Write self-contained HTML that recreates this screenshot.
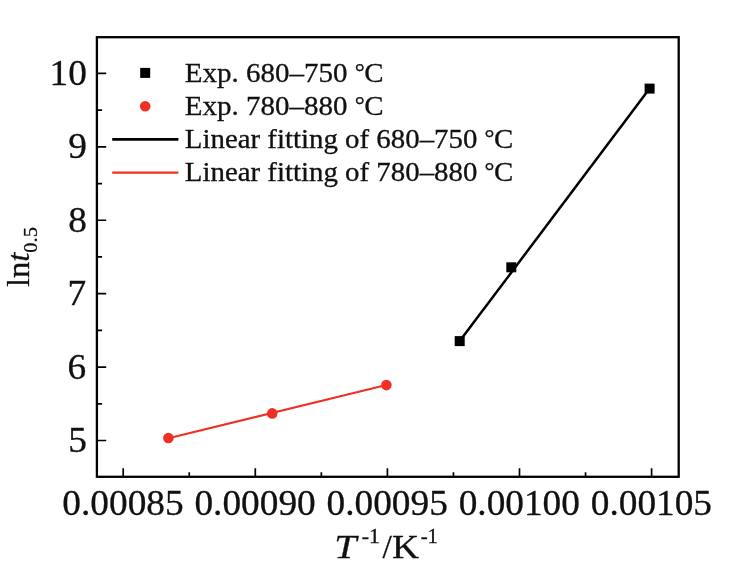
<!DOCTYPE html>
<html><head><meta charset="utf-8"><title>chart</title>
<style>
html,body{margin:0;padding:0;background:#fff}
svg{display:block}
.t{font-family:"Liberation Serif","Noto Serif CJK SC",serif;fill:#111;stroke:#111;stroke-width:0.3px}
</style></head><body>
<svg width="733" height="574" viewBox="0 0 733 574">
<rect width="733" height="574" fill="#fff"/>
<rect x="96.9" y="37.2" width="581.8000000000001" height="439.6" fill="none" stroke="#000" stroke-width="2.3"/>
<path d="M96.9 440.50h9.3 M96.9 367.08h9.3 M96.9 293.66h9.3 M96.9 220.24h9.3 M96.9 146.82h9.3 M96.9 73.40h9.3 M96.9 403.79h5.2 M96.9 330.37h5.2 M96.9 256.95h5.2 M96.9 183.53h5.2 M96.9 110.11h5.2 M123.20 476.8v-8.5 M255.30 476.8v-8.5 M387.40 476.8v-8.5 M519.50 476.8v-8.5 M651.60 476.8v-8.5 M189.25 476.8v-4.6 M321.35 476.8v-4.6 M453.45 476.8v-4.6 M585.55 476.8v-4.6" stroke="#000" stroke-width="1.7" fill="none"/>
<text transform="translate(68.20 452.10) scale(1.0370 1)" text-anchor="start" class="t" font-size="36">5</text>
<text transform="translate(67.62 378.68) scale(1.0370 1)" text-anchor="start" class="t" font-size="36">6</text>
<text transform="translate(67.62 305.26) scale(1.0370 1)" text-anchor="start" class="t" font-size="36">7</text>
<text transform="translate(68.20 231.84) scale(1.0370 1)" text-anchor="start" class="t" font-size="36">8</text>
<text transform="translate(68.20 158.42) scale(1.0370 1)" text-anchor="start" class="t" font-size="36">9</text>
<text transform="translate(49.53 85.00) scale(1.0370 1)" text-anchor="start" class="t" font-size="36">10</text>
<text transform="translate(62.34 514.50) scale(1.0370 1)" text-anchor="start" class="t" font-size="36">0.00085</text>
<text transform="translate(194.44 514.50) scale(1.0370 1)" text-anchor="start" class="t" font-size="36">0.00090</text>
<text transform="translate(326.54 514.50) scale(1.0370 1)" text-anchor="start" class="t" font-size="36">0.00095</text>
<text transform="translate(458.64 514.50) scale(1.0370 1)" text-anchor="start" class="t" font-size="36">0.00100</text>
<text transform="translate(590.74 514.50) scale(1.0370 1)" text-anchor="start" class="t" font-size="36">0.00105</text>
<path d="M459.7 341.1L649.6 88.6" stroke="#000" stroke-width="2.5"/>
<path d="M168.4 438.3L386.4 385.1" stroke="#ee3124" stroke-width="2.1"/>
<rect x="454.7" y="336.1" width="10" height="10" fill="#000"/>
<rect x="506.3" y="262.3" width="10" height="10" fill="#000"/>
<rect x="644.6" y="83.6" width="10" height="10" fill="#000"/>
<circle cx="168.4" cy="438" r="5.3" fill="#ee3124"/>
<circle cx="272.2" cy="413.4" r="5.3" fill="#ee3124"/>
<circle cx="386.4" cy="385.1" r="5.3" fill="#ee3124"/>
<rect x="140.2" y="67.9" width="10" height="10" fill="#000"/>
<circle cx="145.2" cy="106.3" r="5.3" fill="#ee3124"/>
<path d="M112.2 139.4H178.4" stroke="#000" stroke-width="2.6"/>
<path d="M112.2 172.6H178.4" stroke="#ee3124" stroke-width="2.2"/>
<text transform="translate(184.85 81.60) scale(1.0863 1)" text-anchor="start" class="t" font-size="26.7">Exp. 680–750 <tspan dx="-0.1" dy="-2" font-size="23">°</tspan><tspan dx="-0.3" dy="2">C</tspan></text>
<text transform="translate(184.85 114.80) scale(1.0863 1)" text-anchor="start" class="t" font-size="26.7">Exp. 780–880 <tspan dx="-0.1" dy="-2" font-size="23">°</tspan><tspan dx="-0.3" dy="2">C</tspan></text>
<text transform="translate(184.85 148.40) scale(1.0811 1)" text-anchor="start" class="t" font-size="26.7">Linear fitting of 680–750 <tspan dx="-0.1" dy="-2" font-size="23">°</tspan><tspan dx="-0.3" dy="2">C</tspan></text>
<text transform="translate(184.85 181.40) scale(1.0811 1)" text-anchor="start" class="t" font-size="26.7">Linear fitting of 780–880 <tspan dx="-0.1" dy="-2" font-size="23">°</tspan><tspan dx="-0.3" dy="2">C</tspan></text>
<text transform="translate(29.4 287) rotate(-90) scale(1.05 1)" class="t" font-size="31">ln<tspan font-style="italic">t</tspan><tspan dy="7.4" font-size="19.5">0.5</tspan></text>
<text transform="translate(334.21 557.50) scale(1.1543 1)" text-anchor="start" class="t" font-size="34.5" font-style="italic">T</text>
<text transform="translate(361.82 543.40) scale(1.0026 1)" text-anchor="start" class="t" font-size="21.8">-1</text>
<text transform="translate(382.40 557.50) scale(0.9688 1)" text-anchor="start" class="t" font-size="34.5">/</text>
<text transform="translate(391.91 557.50) scale(1.0883 1)" text-anchor="start" class="t" font-size="34.5">K</text>
<text transform="translate(420.65 543.40) scale(0.9540 1)" text-anchor="start" class="t" font-size="21.8">-1</text>
</svg>
</body></html>
